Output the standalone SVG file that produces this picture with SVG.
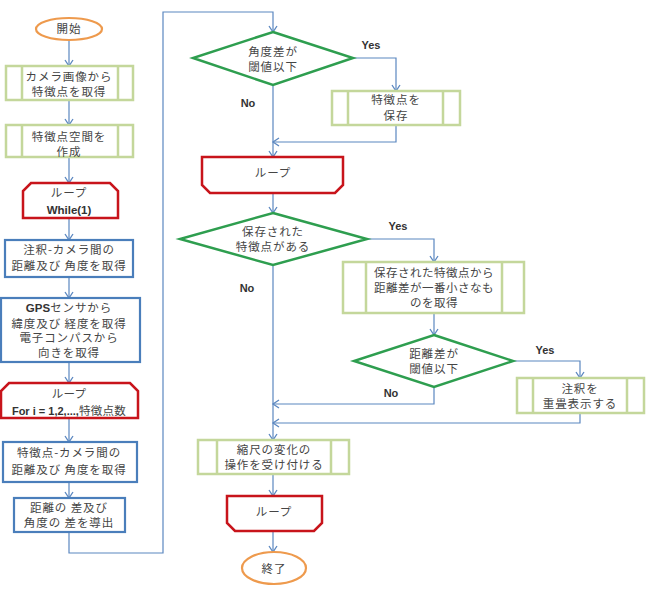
<svg xmlns="http://www.w3.org/2000/svg" width="651" height="612" viewBox="0 0 651 612">
<defs>
<marker id="arr" markerUnits="userSpaceOnUse" markerWidth="10" markerHeight="10" refX="7" refY="5" orient="auto">
<path d="M1,1 L7,5 L1,9" fill="none" stroke="#5B87C0" stroke-width="1.3"/>
</marker>
</defs>
<style>
.t{font-family:"Noto Sans CJK JP","Noto Sans",sans-serif;font-size:11.5px;fill:#454545;text-anchor:middle;letter-spacing:0.9px}
.b{font-family:"Liberation Sans",Arial,sans-serif;font-size:11.5px;font-weight:bold;fill:#333;letter-spacing:0}
.yn{font-family:"Liberation Sans",Arial,sans-serif;font-size:11px;font-weight:bold;fill:#333;text-anchor:middle}
.term{fill:#fff;stroke:#EE9A4D;stroke-width:2.2}
.sub{fill:#fff;stroke:#C4D79B;stroke-width:2.5}
.proc{fill:#fff;stroke:#4A7EBB;stroke-width:2.2}
.loop{fill:#fff;stroke:#C8141B;stroke-width:2.5}
.dec{fill:#fff;stroke:#2E9E4F;stroke-width:2.5}
.ca{fill:none;stroke:#5B87C0;stroke-width:1.2;marker-end:url(#arr)}
</style>
<rect width="651" height="612" fill="#fff"/>
<g id="connectors">
<path class="ca" d="M69,40 V66"/>
<path class="ca" d="M69,100 V125"/>
<path class="ca" d="M69,157 V183"/>
<path class="ca" d="M69,218 V240"/>
<path class="ca" d="M69,277 V298"/>
<path class="ca" d="M69,362 V383"/>
<path class="ca" d="M69,418 V442"/>
<path class="ca" d="M69,482 V498"/>
<path class="ca" d="M69,532 V553 H163 V12 H273 V32"/>
<path class="ca" d="M353,58 H396 V91"/>
<path class="ca" d="M273,85 V157"/>
<path class="ca" d="M396,125 V142 H273"/>
<path class="ca" d="M273,193 V213"/>
<path class="ca" d="M367,239 H434 V262"/>
<path class="ca" d="M273,265 V440"/>
<path class="ca" d="M434,313 V335"/>
<path class="ca" d="M513,361 H580 V378"/>
<path class="ca" d="M434,387 V404 H273"/>
<path class="ca" d="M580,413 V423 H273"/>
<path class="ca" d="M273,474 V496"/>
<path class="ca" d="M273,531 V552"/>
<text class="yn" x="371" y="49">Yes</text>
<text class="yn" x="248" y="107">No</text>
<text class="yn" x="398" y="230">Yes</text>
<text class="yn" x="247" y="292">No</text>
<text class="yn" x="545" y="354">Yes</text>
<text class="yn" x="391" y="397">No</text>
</g>
<g id="start">
<ellipse class="term" cx="69" cy="29" rx="33" ry="11"/>
<text class="t" x="69" y="33">開始</text>
</g>
<g id="box1">
<rect class="sub" x="6" y="66" width="127" height="34"/>
<path class="sub" d="M22,66 V100 M118,66 V100"/>
<text class="t" x="69" y="81">カメラ画像から<tspan x="69" dy="15">特徴点を取得</tspan></text>
</g>
<g id="box2">
<rect class="sub" x="6" y="125" width="127" height="32"/>
<path class="sub" d="M22,125 V157 M118,125 V157"/>
<text class="t" x="69" y="141">特徴点空間を<tspan x="69" dy="15">作成</tspan></text>
</g>
<g id="loop1">
<path class="loop" d="M31,183 H110 L118,191 V218 H23 V191 Z"/>
<text class="t" x="69" y="197">ループ<tspan x="69" dy="17" class="b">While(1)</tspan></text>
</g>
<g id="box3">
<rect class="proc" x="5" y="240" width="128" height="37"/>
<text class="t" x="69" y="254">注釈-カメラ間の<tspan x="69" dy="16">距離及び 角度を取得</tspan></text>
</g>
<g id="box4">
<rect class="proc" x="1" y="298" width="139" height="64"/>
<text class="t" x="69" y="312"><tspan class="b">GPS</tspan>センサから<tspan x="69" dy="15.5">緯度及び 経度を取得</tspan><tspan x="69" dy="14.5">電子コンパスから</tspan><tspan x="69" dy="15">向きを取得</tspan></text>
</g>
<g id="loop2">
<path class="loop" d="M9,383 H130 L138,391 V418 H1 V391 Z"/>
<text class="t" x="69" y="398" style="letter-spacing:0.3px">ループ<tspan x="69" dy="17"><tspan class="b" style="font-size:11px">For i = 1,2,...,</tspan>特徴点数</tspan></text>
</g>
<g id="box5">
<rect class="proc" x="3" y="442" width="134" height="40"/>
<text class="t" x="69" y="457">特徴点-カメラ間の<tspan x="69" dy="17">距離及び 角度を取得</tspan></text>
</g>
<g id="box6">
<rect class="proc" x="14" y="498" width="111" height="34"/>
<text class="t" x="69" y="512">距離の 差及び<tspan x="69" dy="15">角度の 差を導出</tspan></text>
</g>
<g id="dec1">
<path class="dec" d="M273,32 L353,58 L273,85 L193,58 Z"/>
<text class="t" x="273" y="56">角度差が<tspan x="273" dy="15">閾値以下</tspan></text>
</g>
<g id="box-save">
<rect class="sub" x="332" y="91" width="128" height="34"/>
<path class="sub" d="M348,91 V125 M443,91 V125"/>
<text class="t" x="396" y="104">特徴点を<tspan x="396" dy="16">保存</tspan></text>
</g>
<g id="loop3">
<path class="loop" d="M202,157 H343 V185 L335,193 H210 L202,185 Z"/>
<text class="t" x="273" y="177">ループ</text>
</g>
<g id="dec2">
<path class="dec" d="M273,213 L367,239 L273,265 L180,239 Z"/>
<text class="t" x="273" y="236">保存された<tspan x="273" dy="15">特徴点がある</tspan></text>
</g>
<g id="box-get">
<rect class="sub" x="343" y="262" width="181" height="51"/>
<path class="sub" d="M366,262 V313 M502,262 V313"/>
<text class="t" x="434" y="277" style="letter-spacing:0.5px">保存された特徴点から<tspan x="434" dy="15">距離差が一番小さなも</tspan><tspan x="434" dy="15">のを取得</tspan></text>
</g>
<g id="dec3">
<path class="dec" d="M434,335 L513,361 L434,387 L354,361 Z"/>
<text class="t" x="434" y="358">距離差が<tspan x="434" dy="15">閾値以下</tspan></text>
</g>
<g id="box-show">
<rect class="sub" x="517" y="378" width="127" height="35"/>
<path class="sub" d="M533,378 V413 M627,378 V413"/>
<text class="t" x="580" y="393">注釈を<tspan x="580" dy="15">重畳表示する</tspan></text>
</g>
<g id="box7">
<rect class="sub" x="198" y="440" width="151" height="34"/>
<path class="sub" d="M217,440 V474 M331,440 V474"/>
<text class="t" x="274" y="454">縮尺の変化の<tspan x="274" dy="15">操作を受け付ける</tspan></text>
</g>
<g id="loop4">
<path class="loop" d="M227,496 H322 V523 L314,531 H235 L227,523 Z"/>
<text class="t" x="274" y="516">ループ</text>
</g>
<g id="end">
<ellipse class="term" cx="274" cy="568" rx="32" ry="16"/>
<text class="t" x="274" y="573">終了</text>
</g>
</svg>
